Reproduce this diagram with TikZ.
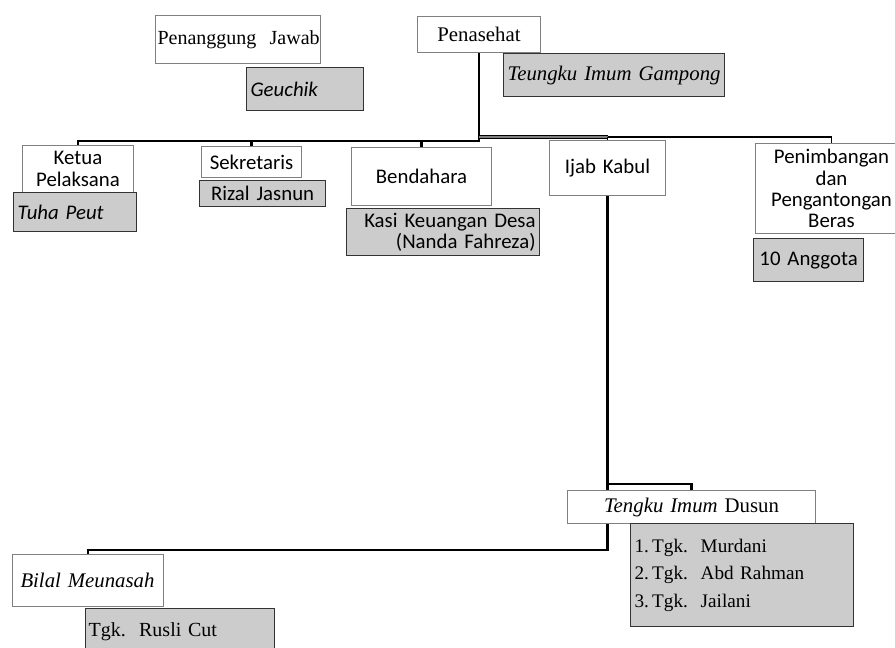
\documentclass[tikz,border=0pt]{standalone}
\usepackage{fontspec}
\setmainfont{Liberation Serif}
\setsansfont{Carlito}
\usetikzlibrary{backgrounds}

\newcommand{\sanstext}{\sffamily\fontsize{10.4}{10.6}\selectfont}
\newcommand{\seriftext}{\rmfamily\fontsize{10.4}{13.8}\selectfont}
\newcommand{\listtext}{\rmfamily\fontsize{9.6}{13.8}\selectfont}

\tikzset{
	post/.style = {draw = gray, fill = white, line width = 0.5pt, anchor = north west, inner xsep = 2pt, inner ysep = 0pt, align = center},
	holder/.style = {draw = black!80, fill = gray!40, line width = 0.6pt, anchor = north west, inner xsep = 2pt, inner ysep = 0pt, align = left},
	link/.style = {line width = 1.1pt}
}

\begin{document}
\begin{tikzpicture}[x = 0.5pt, y = -0.5pt]

	\useasboundingbox (0, 0) rectangle (895, 648);

	% Bus heights
	
	\coordinate (busL) at (0, 141);
	\coordinate (busR) at (0, 137);
	\coordinate (busD) at (0, 484);
	\coordinate (busB) at (0, 550);

	% Posts
	
	\node [post, font = \rmfamily\fontsize{10}{12}\selectfont, inner xsep = 1pt, text width = 80.5pt, minimum height = 24pt] (pj) at (155, 15) {\mbox{Penanggung\ \ Jawab}};
	\node [post, font = \seriftext, text width = 57.5pt, minimum height = 18pt] (pen) at (417, 16) {Penasehat};
	\node [post, font = \sanstext, text width = 51.5pt, minimum height = 23.5pt] (ketua) at (22, 145) {Ketua\\Pelaksana};
	\node [post, font = \sanstext, text width = 46pt, minimum height = 15.5pt] (sekre) at (201, 146) {Sekretaris};
	\node [post, font = \sanstext, text width = 66pt, minimum height = 29pt] (benda) at (351, 147) {Bendahara};
	\node [post, font = \sanstext, text width = 54pt, minimum height = 27.5pt] (ijab) at (549, 140) {Ijab Kabul};
	\node [post, font = \sanstext, text width = 72pt, minimum height = 45pt] (penim) at (755, 143) {Penimbangan\\dan\\Pengantongan\\Beras};
	\node [post, font = \seriftext, text width = 120pt, minimum height = 16.5pt] (dusun) at (567, 490) {\textit{Tengku Imum} Dusun};
	\node [post, font = \seriftext, inner xsep = 4pt, text width = 67.5pt, minimum height = 26pt, align = left] (bilal) at (12, 554) {\textit{Bilal Meunasah}};

	% Holders
	
	\node [holder, font = \sanstext\itshape, text width = 54.5pt, minimum height = 21.5pt] (geuchik) at (246, 67) {Geuchik};
	\node [holder, font = \seriftext\itshape, text width = 106.5pt, minimum height = 21.5pt] (imum) at (503, 53) {Teungku Imum Gampong};
	\node [holder, font = \sanstext\itshape, text width = 57.5pt, minimum height = 19.5pt] (tuha) at (13, 192) {Tuha Peut};
	\node [holder, font = \sanstext, text width = 59pt, minimum height = 13pt, align = center] (rizal) at (199, 180) {Rizal Jasnun};
	\node [holder, font = \sanstext, text width = 92.5pt, minimum height = 23.5pt, align = right] (kasi) at (346, 208) {Kasi Keuangan Desa\\(Nanda Fahreza)};
	\node [holder, font = \sanstext, text width = 51pt, minimum height = 21.5pt, align = center] (anggota) at (753, 238) {10 Anggota};
	\node [holder, font = \listtext, text width = 107.5pt, minimum height = 51.5pt] (tgk) at (630, 523) {1.\,Tgk.\ \ Murdani\\2.\,Tgk.\ \ Abd Rahman\\3.\,Tgk.\ \ Jailani};
	\node [holder, font = \rmfamily\fontsize{10}{12}\selectfont, inner xsep = 1.5pt, text width = 91.5pt, minimum height = 23pt] (rusli) at (85, 608) {Tgk.\ \ Rusli Cut};

	% Connectors
	
	\begin{scope}[on background layer]
		\draw [link] (pen.south) -- (pen.south |- busL) -| (ketua.north);
		\draw [link] (pen.south |- busL) -| (sekre.north);
		\draw [link] (pen.south |- busL) -| (benda.north);
		\draw [line width = 0.5pt, double = gray, double distance = 1.2pt] (pen.south |- busR) -- (ijab.north |- busR);
		\draw [line width = 0.9pt] (ijab.north |- busR) -- (ijab.north);
		\draw [line width = 0.9pt] (ijab.north |- busR) -| (penim.north);
		\draw [link] (ijab.south) -- (ijab.south |- busB) -| (bilal.north);
		\draw [link] (ijab.south |- busD) -| (dusun.north);
	\end{scope}

\end{tikzpicture}
\end{document}
